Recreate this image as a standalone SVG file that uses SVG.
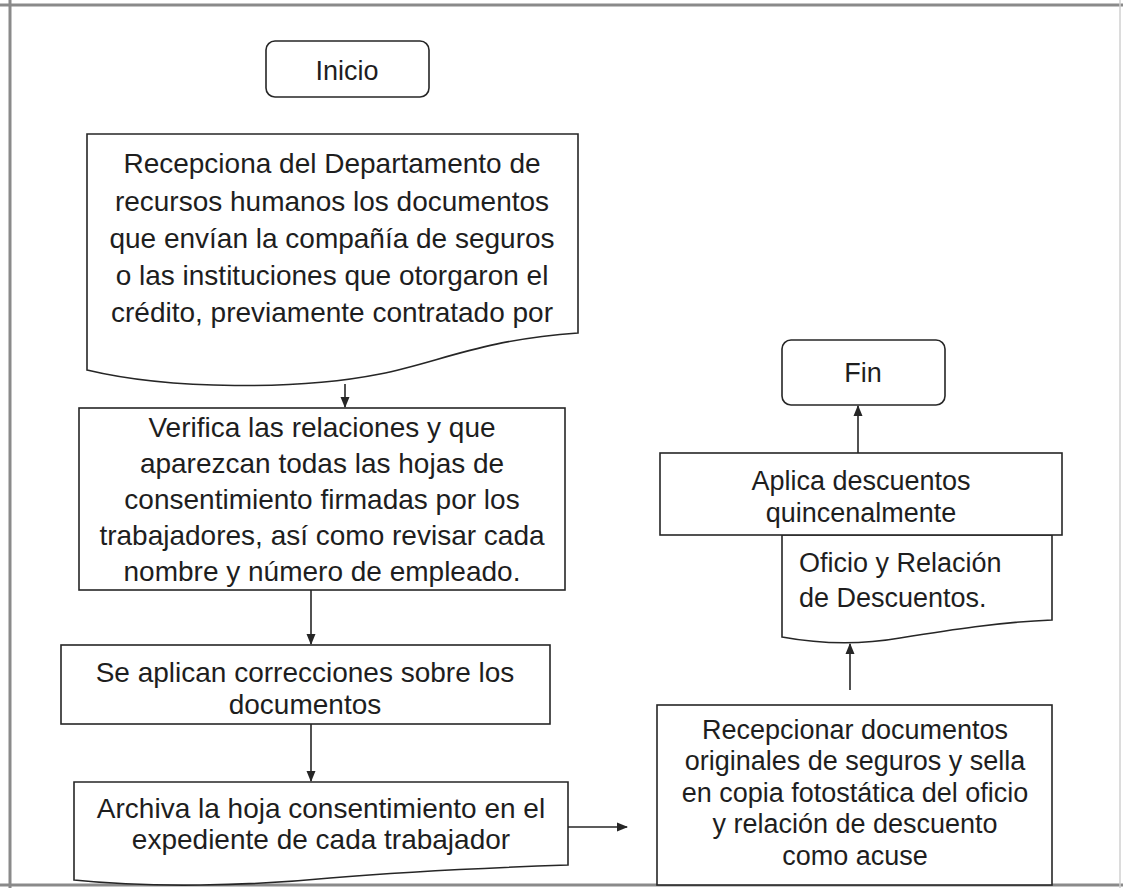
<svg xmlns="http://www.w3.org/2000/svg" width="1123" height="888" viewBox="0 0 1123 888">
<defs>
<marker id="ah" markerWidth="11" markerHeight="10" refX="10" refY="5" orient="auto" markerUnits="userSpaceOnUse">
<path d="M0,0.5 L11,5 L0,9.5 Z" fill="#262626"/>
</marker>
<style>
.sh{fill:#fff;stroke:#262626;stroke-width:1.6}
.t{font-family:"Liberation Sans",Arial,sans-serif;fill:#1e1e1e;text-anchor:middle}
.l{font-size:28px}
.r{font-size:27px}
.c{stroke:#262626;stroke-width:1.6;fill:none;marker-end:url(#ah)}
</style>
</defs>
<rect x="0" y="0" width="1123" height="888" fill="#fff"/>
<g id="frame" fill="none">
<line x1="0" y1="5" x2="1123" y2="5" stroke="#8a8a8a" stroke-width="3"/>
<line x1="10" y1="0" x2="10" y2="888" stroke="#8a8a8a" stroke-width="3"/>
<line x1="0" y1="885" x2="1123" y2="885" stroke="#8a8a8a" stroke-width="3"/>
<line x1="1120" y1="0" x2="1120" y2="888" stroke="#d0d0d0" stroke-width="1.5"/>
</g>
<g id="inicio">
<rect class="sh" x="266" y="41" width="163" height="56" rx="9"/>
<text class="t r" x="347" y="80">Inicio</text>
</g>
<g id="recepciona">
<path class="sh" d="M87,134 H578 V333 C480,340 440,362 380,374 C300,390 170,390 87,370 Z"/>
<text class="t l" x="332" y="173">Recepciona del Departamento de</text>
<text class="t l" x="332" y="211">recursos humanos los documentos</text>
<text class="t l" x="332" y="248">que envían la compañía de seguros</text>
<text class="t l" x="332" y="285">o las instituciones que otorgaron el</text>
<text class="t l" x="332" y="322">crédito, previamente contratado por</text>
</g>
<g id="verifica">
<rect class="sh" x="79" y="408" width="486" height="182"/>
<text class="t l" x="322" y="437">Verifica las relaciones y que</text>
<text class="t l" x="322" y="473">aparezcan todas las hojas de</text>
<text class="t l" x="322" y="509">consentimiento firmadas por los</text>
<text class="t l" x="322" y="545">trabajadores, así como revisar cada</text>
<text class="t l" x="322" y="581">nombre y número de empleado.</text>
</g>
<g id="correcciones">
<rect class="sh" x="61" y="645" width="489" height="79"/>
<text class="t l" x="305" y="682">Se aplican correcciones sobre los</text>
<text class="t l" x="305" y="714">documentos</text>
</g>
<g id="archiva">
<path class="sh" d="M74,782 H568 V865 C480,868 400,872 330,878 C250,886 150,888 74,880 Z"/>
<text class="t l" x="321" y="818">Archiva la hoja consentimiento en el</text>
<text class="t l" x="321" y="849">expediente de cada trabajador</text>
</g>
<g id="recepcionar">
<rect class="sh" x="657" y="705" width="395" height="180"/>
<text class="t r" x="855" y="739">Recepcionar documentos</text>
<text class="t r" x="855" y="770">originales de seguros y sella</text>
<text class="t r" x="855" y="802">en copia fotostática del oficio</text>
<text class="t r" x="855" y="833">y relación de descuento</text>
<text class="t r" x="855" y="865">como acuse</text>
</g>
<g id="oficio">
<path class="sh" d="M782,535 H1052 V620 C1000,622 950,630 900,638 C860,645 820,644 782,637 Z"/>
<text class="t r" x="799" y="572" style="text-anchor:start">Oficio y Relación</text>
<text class="t r" x="799" y="607" style="text-anchor:start">de Descuentos.</text>
</g>
<g id="aplica">
<rect class="sh" x="660" y="453" width="402" height="82"/>
<text class="t r" x="861" y="490">Aplica descuentos</text>
<text class="t r" x="861" y="522">quincenalmente</text>
</g>
<g id="fin">
<rect class="sh" x="782" y="340" width="163" height="65" rx="9"/>
<text class="t r" x="863" y="382">Fin</text>
</g>
<g id="connectors">
<line class="c" x1="345" y1="384" x2="345" y2="407"/>
<line class="c" x1="311" y1="590" x2="311" y2="644"/>
<line class="c" x1="311" y1="724" x2="311" y2="781"/>
<line class="c" x1="568" y1="827" x2="627" y2="827"/>
<line class="c" x1="850" y1="690" x2="850" y2="644"/>
<line class="c" x1="858" y1="453" x2="858" y2="406"/>
</g>
</svg>
